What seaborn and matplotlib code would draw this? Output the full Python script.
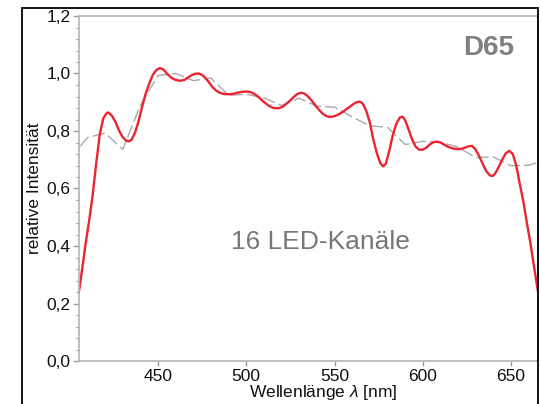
import matplotlib
matplotlib.use("Agg")
import matplotlib.pyplot as plt
from matplotlib.patches import Rectangle
from matplotlib.ticker import MultipleLocator, FuncFormatter
import seaborn as sns
import pandas as pd

# Reconstructed spectrum from 16 LED channels (wavelength in nm, relative intensity)
led_nm = [405, 407, 409, 411, 413, 415, 417, 419, 421, 422, 424, 426, 428, 430,
          432, 433.5, 435, 437, 439, 441, 443, 445, 447, 449, 451, 453, 455, 457,
          459, 461, 463, 465, 467, 469, 471, 473, 475, 477, 479, 481, 483, 485,
          487, 489, 491, 493, 495, 497, 499, 501, 503, 505, 507, 509, 511, 513,
          515, 517, 519, 521, 523, 525, 527, 529, 531, 533, 535, 537, 539, 541,
          543, 545, 547, 549, 551, 553, 555, 557, 559, 561, 563, 564.5, 566, 568,
          570, 572, 574, 576, 577.5, 579, 581, 583, 585, 587, 588.5, 590, 592,
          594, 596, 598, 600, 602, 604, 606, 608, 610, 612, 614, 616, 618, 620,
          622, 624, 626, 628, 630, 632, 634, 636, 638, 639.5, 641, 643, 645, 647,
          649, 651, 653, 655, 657, 659, 661, 663, 665.3]
led_rel = [0.235, 0.32, 0.41, 0.49, 0.58, 0.69, 0.79, 0.845, 0.863, 0.864, 0.852,
           0.830, 0.800, 0.778, 0.766, 0.764, 0.770, 0.795, 0.835, 0.885, 0.930,
           0.965, 0.995, 1.012, 1.019, 1.014, 1.000, 0.988, 0.980, 0.976, 0.975,
           0.978, 0.986, 0.994, 0.999, 1.000, 0.995, 0.984, 0.968, 0.952, 0.940,
           0.933, 0.929, 0.928, 0.928, 0.930, 0.933, 0.936, 0.937, 0.937, 0.934,
           0.927, 0.918, 0.906, 0.896, 0.887, 0.881, 0.879, 0.880, 0.886, 0.896,
           0.907, 0.919, 0.929, 0.933, 0.930, 0.920, 0.906, 0.890, 0.875, 0.862,
           0.853, 0.849, 0.850, 0.854, 0.860, 0.868, 0.877, 0.886, 0.895, 0.901,
           0.902, 0.895, 0.870, 0.830, 0.770, 0.722, 0.688, 0.677, 0.685, 0.730,
           0.785, 0.825, 0.847, 0.850, 0.838, 0.805, 0.770, 0.745, 0.735, 0.735,
           0.742, 0.753, 0.761, 0.763, 0.760, 0.753, 0.746, 0.741, 0.738, 0.737,
           0.738, 0.742, 0.747, 0.748, 0.735, 0.712, 0.685, 0.660, 0.646, 0.643,
           0.652, 0.674, 0.700, 0.722, 0.731, 0.720, 0.680, 0.615, 0.555, 0.480,
           0.410, 0.330, 0.240]

# Target illuminant D65, 10 nm steps, normalised to 1 at 460 nm
d65_nm = [400, 410, 420, 430, 440, 450, 460, 470, 480, 490, 500, 510, 520, 530,
          540, 550, 560, 570, 580, 590, 600, 610, 620, 630, 640, 650, 660, 670]
d65_rel = [0.702, 0.777, 0.793, 0.736, 0.890, 0.993, 1.000, 0.975, 0.984, 0.924,
           0.928, 0.915, 0.889, 0.914, 0.886, 0.883, 0.849, 0.818, 0.813, 0.753,
           0.764, 0.761, 0.744, 0.707, 0.710, 0.679, 0.681, 0.698]

x_ticks = [450, 500, 550, 600, 650]

led = pd.DataFrame({"nm": led_nm, "rel": led_rel})
d65 = pd.DataFrame({"nm": d65_nm, "rel": d65_rel})

sns.set_theme(style="white")
plt.rcParams["font.family"] = ["Liberation Sans", "DejaVu Sans"]
plt.rcParams["mathtext.fontset"] = "custom"
plt.rcParams["mathtext.rm"] = "Liberation Sans"
plt.rcParams["mathtext.it"] = "Liberation Sans:italic"

fig = plt.figure(figsize=(5.4, 4.04), dpi=100)
ax = fig.add_axes([79 / 540, 43 / 404, 459 / 540, 345 / 404])

sns.lineplot(data=d65, x="nm", y="rel", ax=ax, color="#a9a9a9", lw=1.0,
             dashes=False, estimator=None, sort=False, linestyle=(0, (9, 3)))
sns.lineplot(data=led, x="nm", y="rel", ax=ax, color="#ec2330", lw=1.7,
             estimator=None, sort=False)

ax.set_xlim(405.2, 665.3)
ax.set_ylim(0, 1.2)
ax.set_xticks(x_ticks)
ax.yaxis.set_major_locator(MultipleLocator(0.2))
ax.yaxis.set_minor_locator(MultipleLocator(0.04))
ax.yaxis.set_major_formatter(FuncFormatter(lambda v, p: f"{v:.1f}".replace(".", ",")))

ax.tick_params(axis="y", which="major", direction="out", length=4, width=1,
               color="#9a9a9a", labelsize=12.5, pad=2, labelcolor="#111111", left=True)
ax.tick_params(axis="y", which="minor", direction="out", length=2.5, width=0.8,
               color="#9a9a9a", left=True)
ax.tick_params(axis="x", which="major", direction="out", length=3.5, width=1,
               color="#9a9a9a", labelsize=12.5, pad=2.5, labelcolor="#111111", bottom=True)

for name, sp in ax.spines.items():
    sp.set_color("#b4b4b4")
    sp.set_linewidth(1.2)

ax.set_xlabel("Wellenlänge $\\mathit{\\lambda}$ [nm]", fontsize=12.5, color="#111111", labelpad=-0.6)
ax.xaxis.label.set_x(0.532)
ax.set_ylabel("relative Intensität", fontsize=12.5, color="#111111", labelpad=3)

ax.text(0.893, 0.907, "D65", transform=ax.transAxes, fontsize=20, fontweight="bold",
        color="#808080", ha="center", va="center")
ax.text(0.525, 0.345, "16 LED-Kanäle", transform=ax.transAxes, fontsize=19,
        color="#777777", ha="center", va="center")

# black frame around the plot panel
fig.patches.append(Rectangle((22 / 540, -0.05), 516 / 540, 396 / 404 + 0.05,
                             transform=fig.transFigure, fill=False, ec="black",
                             lw=1.3, clip_on=False))

fig.savefig("out.png", dpi=100)
